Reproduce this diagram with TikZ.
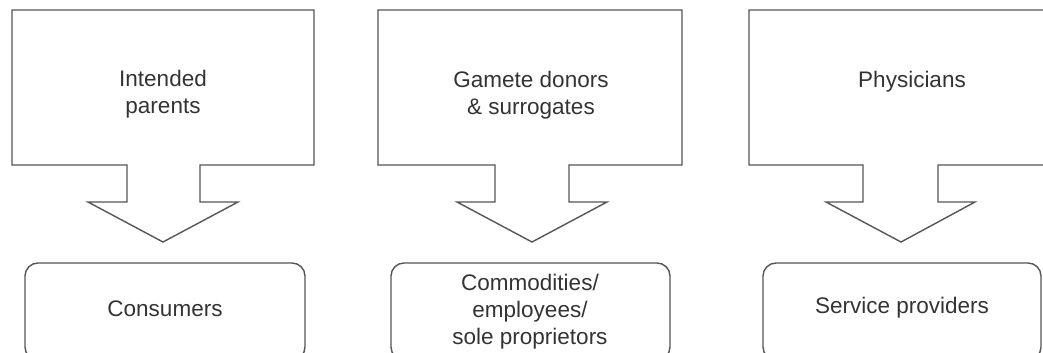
\documentclass[tikz,border=0pt]{standalone}
\usepackage{fontspec}
\setmainfont{Liberation Sans}
\definecolor{edge}{HTML}{555555}
\definecolor{ink}{HTML}{333333}
\begin{document}
\begin{tikzpicture}[x=1pt,y=-1pt,
  shapeline/.style={draw=edge,line width=1.4pt,line join=miter},
  roundbox/.style={shapeline,rounded corners=13pt},
  lbl/.style={text=ink,align=center,inner sep=0pt,font=\fontsize{22.5}{27}\selectfont}]
\useasboundingbox (0,0) rectangle (1043,353);
\clip (0,0) rectangle (1043,353);
% callouts: L, R, stem left, stem right, wing left, wing right, tip
\foreach \L/\R/\sl/\sr/\wl/\wr/\t in {12/314/127/200/88/238/163, 378/682/495/569/457/607/532, 749/1053/863/938/826/975/901}{
  \draw[shapeline] (\L,10) -- (\R,10) -- (\R,165) -- (\sr,165) -- (\sr,202) -- (\wr,202) -- (\t,242) -- (\wl,202) -- (\sl,202) -- (\sl,165) -- (\L,165) -- cycle;
}
\draw[roundbox] (25,263) rectangle (305,360);
\draw[roundbox] (391,263) rectangle (670,360);
\draw[roundbox] (763,263) rectangle (1041,360);
\node[lbl] (ip) at (163,94) {Intended\\parents};
\node[lbl] (gd) at (531,95) {Gamete donors\\\& surrogates};
\node[lbl] (ph) at (912,82) {Physicians};
\node[lbl] (co) at (165,309) {Consumers};
\node[lbl] (ce) at (530,312) {Commodities/\\employees/\\sole proprietors};
\node[lbl] (sp) at (902,308) {Service providers};
\end{tikzpicture}
\end{document}
